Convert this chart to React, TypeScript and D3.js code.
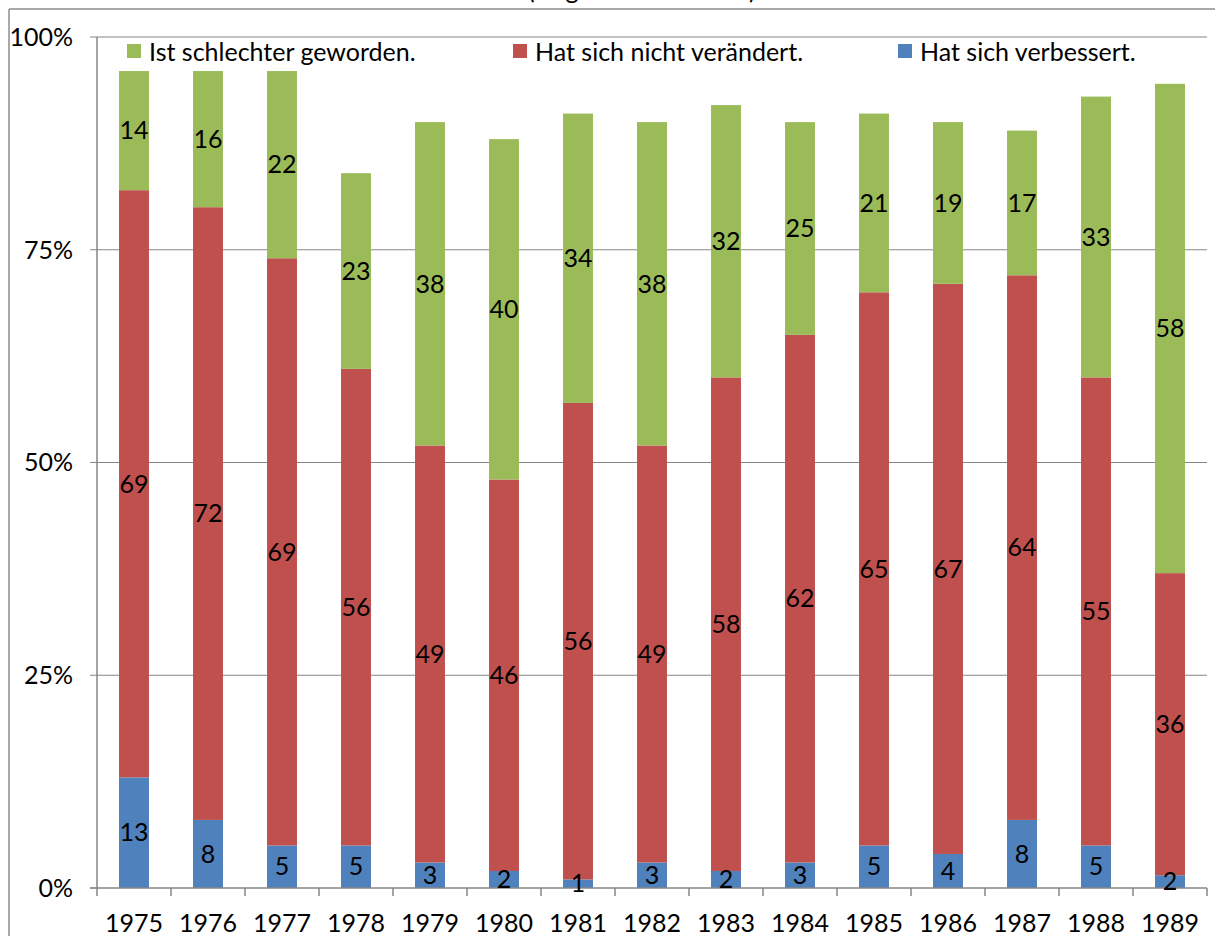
import React from "react";
import * as d3 from "d3";

const years = ["1975","1976","1977","1978","1979","1980","1981","1982","1983","1984","1985","1986","1987","1988","1989"];
const improved = [13, 8, 5, 5, 3, 2, 1, 3, 2, 3, 5, 4, 8, 5, 1.5];
const unchanged = [69, 72, 69, 56, 49, 46, 56, 49, 58, 62, 65, 67, 64, 55, 35.5];
const worse = [14, 16, 22, 23, 38, 40, 34, 38, 32, 25, 21, 19, 17, 33, 57.5];
const yTicks = [0, 25, 50, 75, 100];
const seriesNames = ["Ist schlechter geworden.", "Hat sich nicht verändert.", "Hat sich verbessert."];
const titleText = "(Angaben in Prozent)";

const W = 1215, H = 936;
const FONT = "Lato, 'Open Sans', sans-serif";
const FS = 25;
const COLORS = { improved: "#4F81BD", unchanged: "#C0504D", worse: "#9BBB59" };
const GRID = "#868686";

export default function App() {
  const x = d3.scaleBand<string>().domain(years).range([97, 1207]).padding(0);
  const y = d3.scaleLinear().domain([0, 100]).range([888, 37]);
  const bw = x.bandwidth() * 0.405;

  const rows = years.map((yr, i) => ({ yr, improved: improved[i], unchanged: unchanged[i], worse: worse[i] }));
  const stack = d3.stack<any>().keys(["improved", "unchanged", "worse"])(rows);

  const legend = [
    { name: seriesNames[0], color: COLORS.worse, x: 127 },
    { name: seriesNames[1], color: COLORS.unchanged, x: 513 },
    { name: seriesNames[2], color: COLORS.improved, x: 898 },
  ];

  return (
    <svg width={W} height={H} style={{ position: "absolute", left: 0, top: 0, background: "#fff" }} fontFamily={FONT}>
      <rect x={0} y={0} width={W} height={H} fill="#fff" />
      <text x={528} y={-1} fontSize={FS} fill="#000">{titleText}</text>
      {/* frame */}
      <line x1={9} y1={9} x2={W} y2={9} stroke="#8c8c8c" strokeWidth={1.5} />
      <line x1={9} y1={9} x2={9} y2={H} stroke="#8c8c8c" strokeWidth={1.5} />
      {/* grid */}
      {yTicks.map(t => (
        <g key={t}>
          {t > 0 && <line x1={97} x2={1207} y1={y(t)} y2={y(t)} stroke={GRID} strokeWidth={1} />}
          <line x1={90} x2={97} y1={y(t)} y2={y(t)} stroke={GRID} strokeWidth={1} />
          <text x={73} y={y(t)} dy="0.35em" textAnchor="end" fontSize={FS} fill="#000">{t + "%"}</text>
        </g>
      ))}
      {/* bars */}
      {stack.map(s => (
        <g key={s.key} fill={(COLORS as any)[s.key]}>
          {s.map((d, i) => (
            <rect key={i} x={(x(years[i]) as number) + x.bandwidth() / 2 - bw / 2} width={bw}
              y={y(d[1])} height={y(d[0]) - y(d[1])} />
          ))}
        </g>
      ))}
      {/* axes */}
      <line x1={97} x2={97} y1={37} y2={888} stroke={GRID} strokeWidth={1.5} />
      <line x1={90} x2={1207} y1={888} y2={888} stroke={GRID} strokeWidth={1.5} />
      {years.map((yr, i) => (
        <line key={"t" + yr} x1={x(yr) as number} x2={x(yr) as number} y1={888} y2={896} stroke={GRID} strokeWidth={1.5} />
      ))}
      <line x1={1207} x2={1207} y1={888} y2={896} stroke={GRID} strokeWidth={1.5} />
      {years.map(yr => (
        <text key={"l" + yr} x={(x(yr) as number) + x.bandwidth() / 2} y={932} textAnchor="middle" fontSize={FS} fill="#000">{yr}</text>
      ))}
      {/* value labels */}
      {stack.map(s => (
        <g key={"v" + s.key}>
          {s.map((d, i) => (
            <text key={i} x={(x(years[i]) as number) + x.bandwidth() / 2} y={(y(d[0]) + y(d[1])) / 2} dy="0.35em"
              textAnchor="middle" fontSize={FS} fill="#000">{Math.round(d[1] - d[0])}</text>
          ))}
        </g>
      ))}
      {/* legend */}
      {legend.map(l => (
        <g key={l.name}>
          <rect x={l.x} y={44} width={14} height={14} fill={l.color} />
          <text x={l.x + 22} y={61} fontSize={FS} fill="#000">{l.name}</text>
        </g>
      ))}
    </svg>
  );
}
